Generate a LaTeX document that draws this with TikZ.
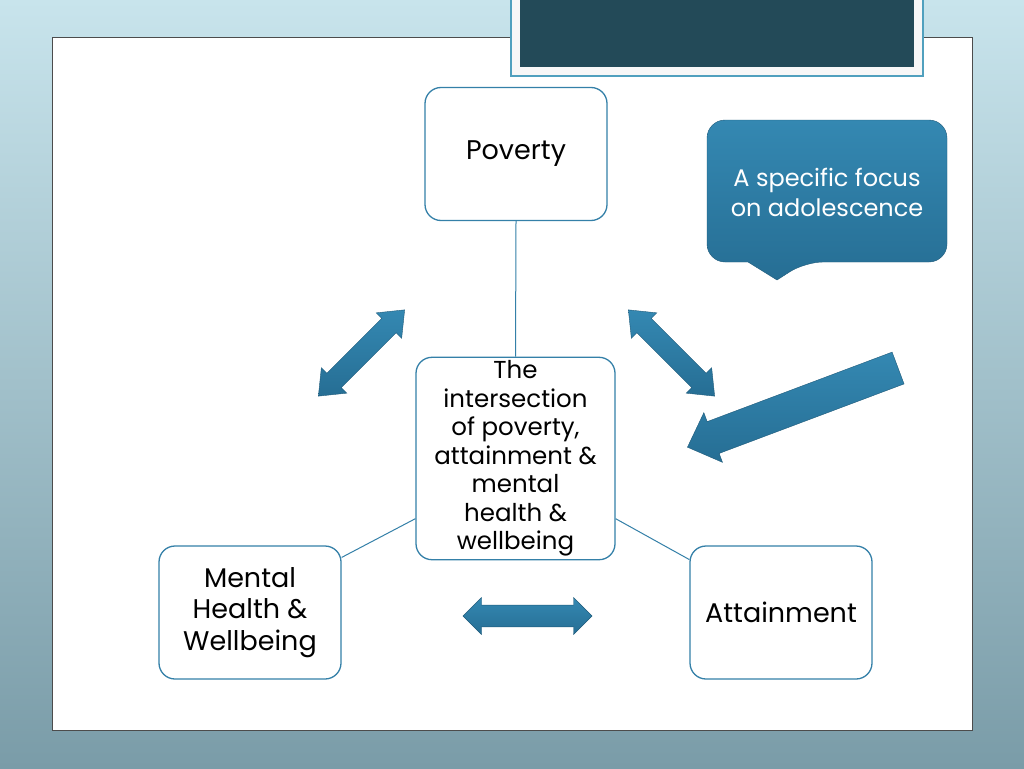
\documentclass[tikz,border=0pt]{standalone}
\usepackage{fontspec}
\setmainfont{Poppins}
\usetikzlibrary{shapes.arrows}

\definecolor{slidetop}{RGB}{200,228,236}
\definecolor{slidebot}{RGB}{122,156,168}
\definecolor{titledark}{RGB}{35,74,88}
\definecolor{titleedge}{RGB}{80,160,190}
\definecolor{boxedge}{RGB}{52,128,168}
\definecolor{arrowlight}{RGB}{52,136,178}
\definecolor{arrowdark}{RGB}{38,110,148}
\definecolor{arrowedge}{RGB}{30,90,122}

\tikzset{
  topic/.style={draw=boxedge, line width=1.3pt, rounded corners=16pt, fill=white,
    minimum width=182pt, minimum height=133pt, align=center,
    font=\fontsize{27}{31.5}\selectfont},
  link/.style={draw=boxedge, line width=1pt},
  dblarrow/.style={double arrow, top color=arrowlight, bottom color=arrowdark,
    draw=arrowedge, line width=0.4pt, inner xsep=0pt},
  bigarrow/.style={single arrow, top color=arrowlight, bottom color=arrowdark,
    draw=arrowedge, line width=0.4pt, inner xsep=0pt}
}

\begin{document}
\begin{tikzpicture}[x=1pt, y=-1pt]
  \useasboundingbox (0,0) rectangle (1024,768);
  % slide background
  \shade[top color=slidetop, bottom color=slidebot] (0,0) rectangle (1024,768);
  \fill[white, draw=black!70, line width=0.8pt] (52,37) rectangle (972,730);
  % title bar
  \fill[black!3, draw=titleedge, line width=1.2pt] (511,-5) rectangle (923,76);
  \fill[titledark] (520,-5) rectangle (914,67);

  % topic boxes
  \node[topic] (poverty) at (516,154) {Poverty};
  \node[topic, minimum width=199pt, minimum height=197pt,
    font=\fontsize{24.5}{28.5}\selectfont] (centre) at (515.5,458.5)
    {The\\intersection\\of poverty,\\attainment \&\\mental\\health \&\\wellbeing};
  \node[topic] (mental) at (250,612.5) {Mental\\Health \&\\Wellbeing};
  \node[topic] (attain) at (781,612.5) {Attainment};

  \draw[link] (poverty.south) -- (centre.north);
  \draw[link] (centre.211) -- (mental.31);
  \draw[link] (centre.329) -- (attain.150);

  % block arrows
  \node[dblarrow, rotate=45, inner ysep=9pt, minimum width=36pt,
    minimum height=122pt, double arrow tip angle=78] (leftarr) at (361.5,353) {};
  \node[dblarrow, rotate=-45, inner ysep=9pt, minimum width=36pt,
    minimum height=122pt, double arrow tip angle=78] (rightarr) at (671.5,353) {};
  \node[dblarrow, inner ysep=10pt, minimum width=37pt,
    minimum height=129pt, double arrow tip angle=90] (botarr) at (527.5,616) {};
  \node[bigarrow, rotate=200.6, inner ysep=12.5pt, minimum width=53pt,
    minimum height=225pt, single arrow tip angle=88] (focusarr) at (801,404.5) {};

  % callout
  \shade[top color=arrowlight, bottom color=arrowdark, draw=arrowedge, line width=0.4pt]
    (707,191) [rounded corners=18pt] |- (947,120) |- (805,262)
    [sharp corners] -- (777,280) -- (748,262)
    [rounded corners=18pt] -| (707,191) -- cycle;
  \node[text=white, align=center, font=\fontsize{24}{30}\selectfont] (focus)
    at (827,192) {A specific focus\\on adolescence};
\end{tikzpicture}
\end{document}
